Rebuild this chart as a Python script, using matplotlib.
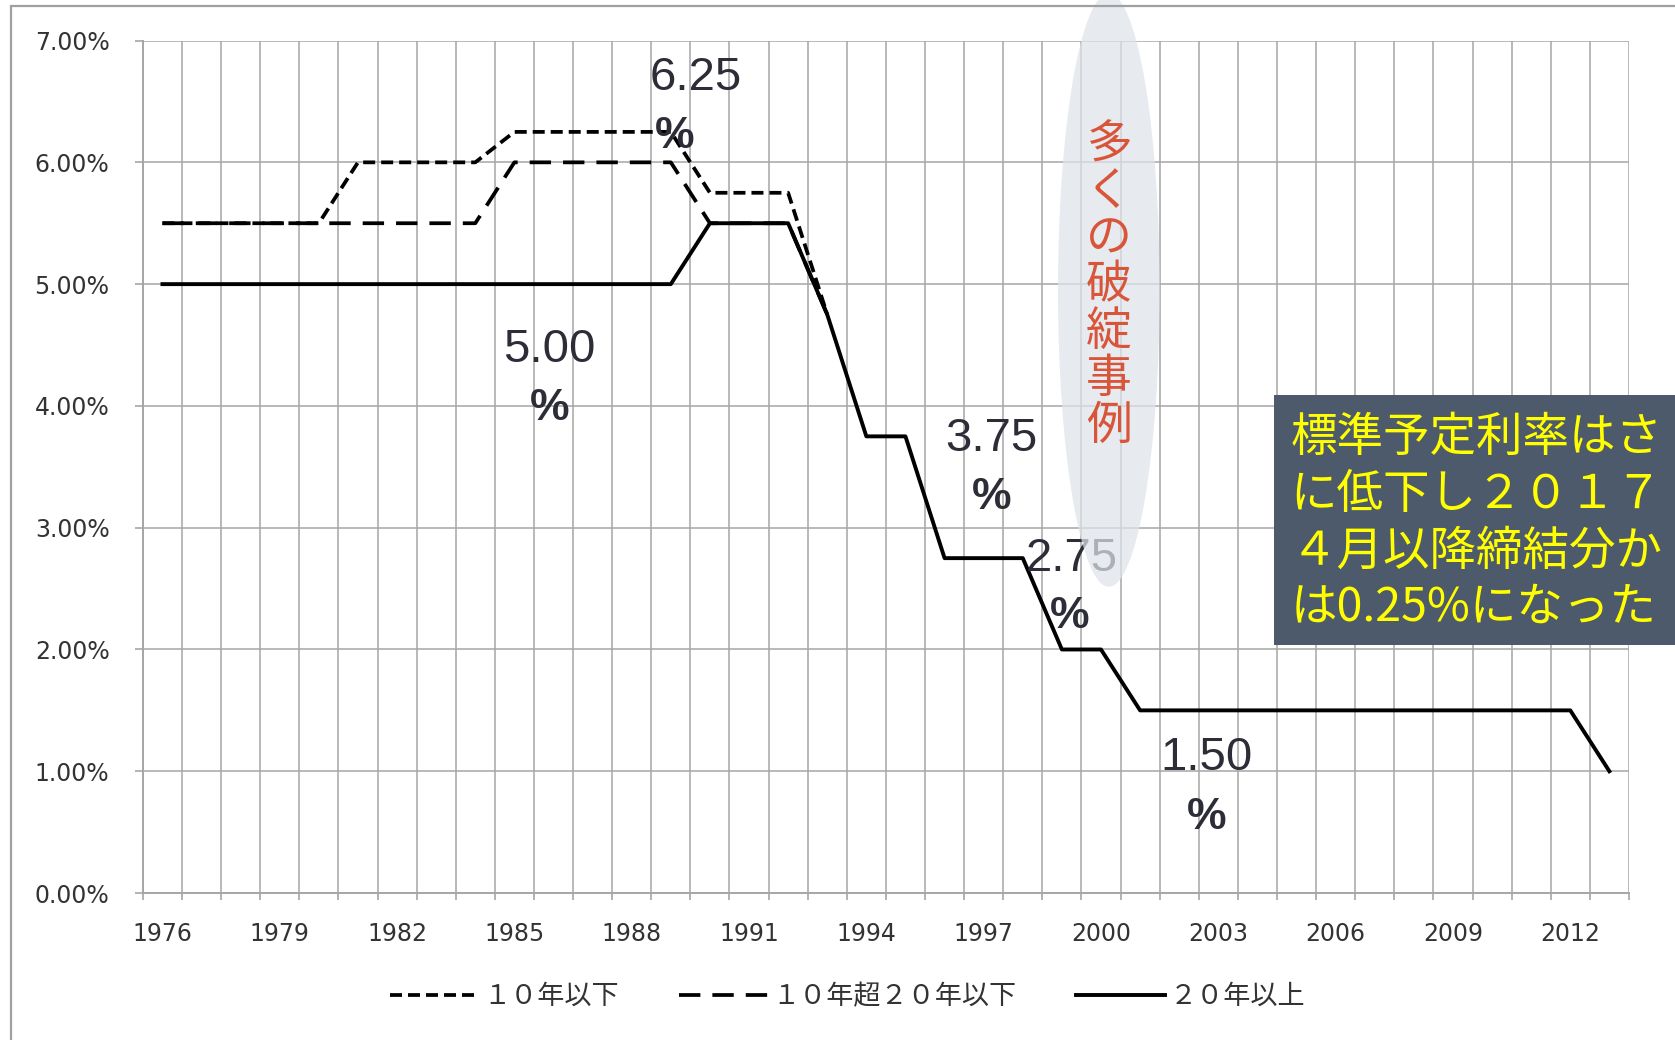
import matplotlib.pyplot as plt
from matplotlib.patches import Ellipse, Rectangle

# standard assumed interest rate (%) by policy term
years = list(range(1976, 2014))
short_years = list(range(1976, 1994))
rate_10_under = [5.5, 5.5, 5.5, 5.5, 5.5, 6.0, 6.0, 6.0, 6.0,
                 6.25, 6.25, 6.25, 6.25, 6.25, 5.75, 5.75, 5.75, 4.75]
rate_10_20 = [5.5, 5.5, 5.5, 5.5, 5.5, 5.5, 5.5, 5.5, 5.5,
              6.0, 6.0, 6.0, 6.0, 6.0, 5.5, 5.5, 5.5, 4.75]
rate_20_over = [5.0] * 14 + [5.5, 5.5, 5.5, 4.75, 3.75, 3.75,
                             2.75, 2.75, 2.75, 2.0, 2.0] + [1.5] * 12 + [1.0]
series_names = ["１０年以下", "１０年超２０年以下", "２０年以上"]

# value callouts: (number, x, y, percent x, percent y)
callouts = [("6.25", 1989.65, 6.69, 1989.1, 6.21),
            ("5.00", 1985.9, 4.46, 1985.9, 3.98),
            ("3.75", 1997.2, 3.73, 1997.2, 3.25),
            ("2.75", 1999.25, 2.745, 1999.2, 2.27),
            ("1.50", 2002.7, 1.105, 2002.7, 0.62)]

yticks = [0, 1, 2, 3, 4, 5, 6, 7]
xlabels = list(range(1976, 2013, 3))

GRID = "#a6a6a6"; TXT = "#2d2d38"; RED = "#d8553a"; BOX = "#4d5a6b"
JP = ["Noto Sans CJK JP", "DejaVu Sans"]

fig = plt.figure(figsize=(16.75, 10.4), dpi=100)
fig.patch.set_facecolor("white")
fig.patches.append(Rectangle((0.0064, -0.1), 1.2, 1.1 - 0.0062, transform=fig.transFigure,
                             fill=False, ec="#a0a0a0", lw=1.6, zorder=0))

ax = fig.add_axes([0.0853, 0.1413, 0.9725 - 0.0853, 0.961 - 0.1413])
ax.set_facecolor("none")
ax.set_xlim(1975.5, 2013.5)
ax.set_ylim(0, 7)

# grid
for b in range(1975, 2014):
    ax.axvline(b + 0.5, color=GRID, lw=1.1, zorder=1)
for v in yticks[1:]:
    ax.axhline(v, color=GRID, lw=1.1, zorder=1)

for s in ["top", "right"]:
    ax.spines[s].set_visible(False)
for s in ["left", "bottom"]:
    ax.spines[s].set_color(GRID)
    ax.spines[s].set_linewidth(1.4)

ax.set_yticks(yticks)
ax.set_yticklabels([f"{v:.2f}%" for v in yticks])
ax.set_xticks(xlabels)
ax.set_xticklabels([str(y) for y in xlabels])
ax.set_xticks([b + 0.5 for b in range(1975, 2014)], minor=True)
ax.tick_params(axis="y", length=6, width=1.2, color=GRID, pad=18, labelsize=17, labelcolor="#333333")
ax.tick_params(axis="x", which="major", length=0, pad=21, labelsize=17, labelcolor="#333333")
ax.tick_params(axis="x", which="minor", length=5, width=1.2, color=GRID)

l1, = ax.plot(short_years, rate_10_under, color="black", lw=2.7, dashes=(3.2, 1.6), zorder=3)
l2, = ax.plot(short_years, rate_10_20, color="black", lw=2.7, dashes=(5.7, 3.2), zorder=3)
l3, = ax.plot(years, rate_20_over, color="black", lw=2.8, zorder=4)

for num, x, y, px, py in callouts:
    ax.text(x, y, num, ha="center", va="center", fontsize=34, color=TXT,
            family="Liberation Sans", zorder=5)
    ax.text(px, py, "%", ha="center", va="center", fontsize=32, color=TXT,
            family="Liberation Sans", fontweight="bold", zorder=5)

ax.add_patch(Ellipse((2000.2, 4.95), 2.6, 4.87, fc="#dfe3e8", ec="none", alpha=0.72,
                     clip_on=False, zorder=6))
ax.text(2000.2, 4.99, "\n".join("多くの破綻事例"), ha="center", va="center", fontsize=33,
        color=RED, family=JP, linespacing=0.95, zorder=7)

# note box runs off the right edge of the slide, as in the source
fig.patches.append(Rectangle((0.7606, 0.3798), 0.4, 0.2404, transform=fig.transFigure,
                             fc=BOX, ec="none", zorder=8))
box_lines = ["標準予定利率はさ", "に低下し２０１７", "４月以降締結分か", "は0.25%になった"]
for i, line in enumerate(box_lines):
    fig.text(0.7705, 0.579 - i * 0.0545, line, ha="left", va="center", fontsize=33.5,
             color="#ffff00", family=JP, zorder=9)

leg = fig.legend([l1, l2, l3], series_names, loc="center", bbox_to_anchor=(0.506, 0.0417),
                 ncol=3, frameon=False, handlelength=3.3, handletextpad=0.15,
                 columnspacing=2.2, prop={"family": JP, "size": 19.5})
for t in leg.get_texts():
    t.set_color("#333333")

fig.savefig("out.png", dpi=100, facecolor="white")
